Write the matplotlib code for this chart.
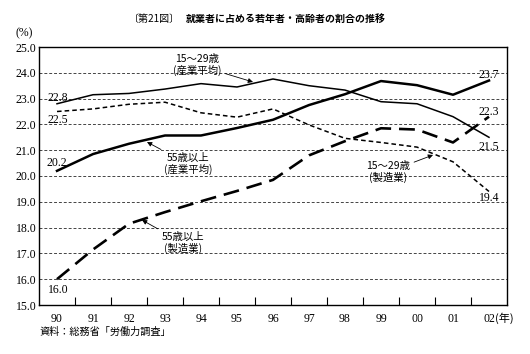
import matplotlib
matplotlib.use("Agg")
import matplotlib.pyplot as plt
import numpy as np

plt.rcParams['font.family'] = ['Noto Sans CJK JP', 'DejaVu Sans']

years = ["90", "91", "92", "93", "94", "95", "96", "97", "98", "99", "00", "01", "02"]
young_all = [22.8, 23.15, 23.2, 23.37, 23.58, 23.45, 23.76, 23.5, 23.33, 22.88, 22.8, 22.3, 21.5]
old_all = [20.2, 20.85, 21.25, 21.57, 21.57, 21.86, 22.18, 22.75, 23.17, 23.68, 23.52, 23.15, 23.7]
young_mfg = [22.5, 22.6, 22.78, 22.86, 22.45, 22.28, 22.6, 21.98, 21.46, 21.3, 21.12, 20.55, 19.4]
old_mfg = [16.0, 17.15, 18.15, 18.6, 19.02, 19.42, 19.85, 20.8, 21.35, 21.85, 21.8, 21.3, 22.3]
yticks = [15.0, 16.0, 17.0, 18.0, 19.0, 20.0, 21.0, 22.0, 23.0, 24.0, 25.0]

W, H = 530, 354
fig = plt.figure(figsize=(W / 100, H / 100), dpi=100)
L, R, T, B = 39, 507, 47, 305
ax = fig.add_axes([L / W, 1 - B / H, (R - L) / W, (B - T) / H])

x = np.arange(len(years))
serif = 'Liberation Serif'

for v in yticks[1:-1]:
    ax.axhline(v, color='#444444', lw=0.7, dashes=(3, 2), zorder=1)

ax.plot(x, young_all, color='black', lw=1.1, zorder=3)
ax.plot(x, old_all, color='black', lw=1.8, zorder=3)
ax.plot(x, young_mfg, color='black', lw=1.1, dashes=(3, 2), zorder=3)
ax.plot(x, old_mfg, color='black', lw=1.9, dashes=(6, 3), zorder=3)

ax.set_xlim(-0.5, len(years) - 0.5)
ax.set_ylim(15, 25)
ax.set_yticks(yticks)
ax.set_yticklabels([f"{v:.1f}" for v in yticks], fontfamily=serif, fontsize=8.5)
ax.set_xticks(x)
ax.set_xticklabels(years, fontfamily=serif, fontsize=8.5)
ax.set_xticks(np.arange(0.5, len(years) - 1, 1), minor=True)
ax.tick_params(axis='x', which='major', length=0, pad=6)
ax.tick_params(axis='x', which='minor', direction='in', length=6, width=0.8)
ax.tick_params(axis='y', length=0, pad=2)
for s in ax.spines.values():
    s.set_linewidth(1.0)

def px(xp, yp):
    return ((xp - L) / 36 - 0.5, 25 - (yp - T) / 25.8)

arrow = dict(arrowstyle='-|>', color='black', lw=0.6, mutation_scale=7, shrinkA=1, shrinkB=0)
fs = 7.5
ax.annotate("15～29歳\n(産業平均)", xy=px(253, 82), xytext=px(197, 65), ha='center', va='center',
            fontsize=fs, linespacing=1.1, arrowprops=arrow, zorder=5)
ax.annotate("55歳以上\n(産業平均)", xy=px(147, 142), xytext=px(188, 164), ha='center', va='center',
            fontsize=fs, linespacing=1.1, arrowprops=arrow, zorder=5)
ax.annotate("15～29歳\n(製造業)", xy=px(433, 155), xytext=px(388, 172), ha='center', va='center',
            fontsize=fs, linespacing=1.1, arrowprops=arrow, zorder=5)
ax.annotate("55歳以上\n(製造業)", xy=px(142, 220), xytext=px(183, 243), ha='center', va='center',
            fontsize=fs, linespacing=1.1, arrowprops=arrow, zorder=5)

labels = [("22.8", 58, 98), ("22.5", 58, 120), ("20.2", 57, 163), ("16.0", 58, 290),
          ("23.7", 489, 75), ("22.3", 489, 112), ("21.5", 489, 147), ("19.4", 489, 198)]
for t, xp, yp in labels:
    ax.text(*px(xp, yp), t, ha='center', va='center', fontfamily=serif, fontsize=8.5, zorder=5)

ax.text(*px(495, 318), "(年)", ha='left', va='center', fontsize=8, clip_on=False)
fig.text(15 / W, 1 - 33 / H, "(%)", ha='left', va='center', fontfamily=serif, fontsize=8.5)
fig.text(180 / W, 1 - 19 / H, "〔第21図〕", ha='right', va='center', fontsize=7.2)
fig.text(186 / W, 1 - 19 / H, "就業者に占める若年者・高齢者の割合の推移", ha='left', va='center',
         fontsize=7.2, fontweight='bold')
fig.text(39 / W, 1 - 332 / H, "資料：総務省「労働力調査」", ha='left', va='center', fontsize=7.3)

fig.savefig("out.png", dpi=100)
